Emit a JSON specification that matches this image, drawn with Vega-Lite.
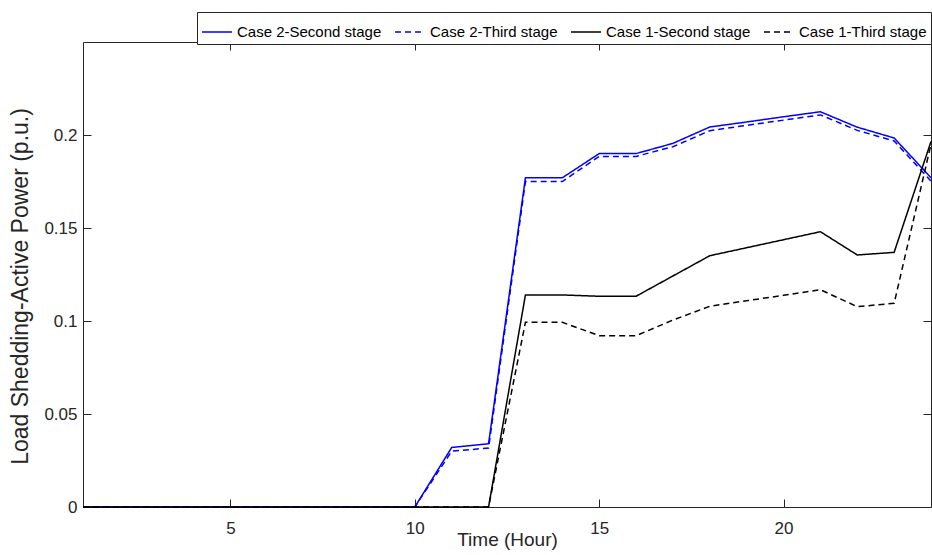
{
  "$schema": "https://vega.github.io/schema/vega-lite/v6.json",
  "width": 848,
  "height": 465,
  "autosize": {"type": "none"},
  "padding": {"left": 83, "top": 42, "right": 1, "bottom": 48},
  "background": "white",
  "config": {
    "font": "Liberation Sans",
    "view": {"stroke": "#262626", "strokeWidth": 1},
    "axis": {
      "labelColor": "#262626",
      "titleColor": "#262626",
      "tickColor": "#262626",
      "domainColor": "#262626",
      "grid": false,
      "labelFontSize": 17,
      "titleFontWeight": "normal",
      "tickSize": -8,
      "domain": false
    },
    "legend": {
      "orient": "none",
      "legendX": 114,
      "legendY": -30,
      "direction": "horizontal",
      "symbolType": "stroke",
      "symbolSize": 900,
      "symbolStrokeWidth": 1.5,
      "labelFontSize": 15,
      "labelColor": "#000000",
      "labelOffset": 4,
      "columnPadding": 10,
      "padding": 4,
      "strokeColor": "#262626",
      "fillColor": "white",
      "title": null,
      "labelLimit": 300
    }
  },
  "data": {
    "values": [
      {"series": "Case 2-Second stage", "hour": 1, "value": 0},
      {"series": "Case 2-Second stage", "hour": 2, "value": 0},
      {"series": "Case 2-Second stage", "hour": 3, "value": 0},
      {"series": "Case 2-Second stage", "hour": 4, "value": 0},
      {"series": "Case 2-Second stage", "hour": 5, "value": 0},
      {"series": "Case 2-Second stage", "hour": 6, "value": 0},
      {"series": "Case 2-Second stage", "hour": 7, "value": 0},
      {"series": "Case 2-Second stage", "hour": 8, "value": 0},
      {"series": "Case 2-Second stage", "hour": 9, "value": 0},
      {"series": "Case 2-Second stage", "hour": 10, "value": 0},
      {"series": "Case 2-Second stage", "hour": 11, "value": 0.032},
      {"series": "Case 2-Second stage", "hour": 12, "value": 0.034},
      {"series": "Case 2-Second stage", "hour": 13, "value": 0.177},
      {"series": "Case 2-Second stage", "hour": 14, "value": 0.177},
      {"series": "Case 2-Second stage", "hour": 15, "value": 0.190},
      {"series": "Case 2-Second stage", "hour": 16, "value": 0.190},
      {"series": "Case 2-Second stage", "hour": 17, "value": 0.1955},
      {"series": "Case 2-Second stage", "hour": 18, "value": 0.2043},
      {"series": "Case 2-Second stage", "hour": 19, "value": 0.207},
      {"series": "Case 2-Second stage", "hour": 20, "value": 0.2098},
      {"series": "Case 2-Second stage", "hour": 21, "value": 0.2125},
      {"series": "Case 2-Second stage", "hour": 22, "value": 0.2042},
      {"series": "Case 2-Second stage", "hour": 23, "value": 0.1984},
      {"series": "Case 2-Second stage", "hour": 24, "value": 0.177},
      {"series": "Case 2-Third stage", "hour": 1, "value": 0},
      {"series": "Case 2-Third stage", "hour": 2, "value": 0},
      {"series": "Case 2-Third stage", "hour": 3, "value": 0},
      {"series": "Case 2-Third stage", "hour": 4, "value": 0},
      {"series": "Case 2-Third stage", "hour": 5, "value": 0},
      {"series": "Case 2-Third stage", "hour": 6, "value": 0},
      {"series": "Case 2-Third stage", "hour": 7, "value": 0},
      {"series": "Case 2-Third stage", "hour": 8, "value": 0},
      {"series": "Case 2-Third stage", "hour": 9, "value": 0},
      {"series": "Case 2-Third stage", "hour": 10, "value": 0},
      {"series": "Case 2-Third stage", "hour": 11, "value": 0.030},
      {"series": "Case 2-Third stage", "hour": 12, "value": 0.0317},
      {"series": "Case 2-Third stage", "hour": 13, "value": 0.175},
      {"series": "Case 2-Third stage", "hour": 14, "value": 0.175},
      {"series": "Case 2-Third stage", "hour": 15, "value": 0.1885},
      {"series": "Case 2-Third stage", "hour": 16, "value": 0.1885},
      {"series": "Case 2-Third stage", "hour": 17, "value": 0.1937},
      {"series": "Case 2-Third stage", "hour": 18, "value": 0.2023},
      {"series": "Case 2-Third stage", "hour": 19, "value": 0.2052},
      {"series": "Case 2-Third stage", "hour": 20, "value": 0.208},
      {"series": "Case 2-Third stage", "hour": 21, "value": 0.2108},
      {"series": "Case 2-Third stage", "hour": 22, "value": 0.2025},
      {"series": "Case 2-Third stage", "hour": 23, "value": 0.1968},
      {"series": "Case 2-Third stage", "hour": 24, "value": 0.1752},
      {"series": "Case 1-Second stage", "hour": 1, "value": 0},
      {"series": "Case 1-Second stage", "hour": 2, "value": 0},
      {"series": "Case 1-Second stage", "hour": 3, "value": 0},
      {"series": "Case 1-Second stage", "hour": 4, "value": 0},
      {"series": "Case 1-Second stage", "hour": 5, "value": 0},
      {"series": "Case 1-Second stage", "hour": 6, "value": 0},
      {"series": "Case 1-Second stage", "hour": 7, "value": 0},
      {"series": "Case 1-Second stage", "hour": 8, "value": 0},
      {"series": "Case 1-Second stage", "hour": 9, "value": 0},
      {"series": "Case 1-Second stage", "hour": 10, "value": 0},
      {"series": "Case 1-Second stage", "hour": 11, "value": 0},
      {"series": "Case 1-Second stage", "hour": 12, "value": 0},
      {"series": "Case 1-Second stage", "hour": 13, "value": 0.114},
      {"series": "Case 1-Second stage", "hour": 14, "value": 0.114},
      {"series": "Case 1-Second stage", "hour": 15, "value": 0.1133},
      {"series": "Case 1-Second stage", "hour": 16, "value": 0.1133},
      {"series": "Case 1-Second stage", "hour": 17, "value": 0.1242},
      {"series": "Case 1-Second stage", "hour": 18, "value": 0.1351},
      {"series": "Case 1-Second stage", "hour": 19, "value": 0.1394},
      {"series": "Case 1-Second stage", "hour": 20, "value": 0.1437},
      {"series": "Case 1-Second stage", "hour": 21, "value": 0.148},
      {"series": "Case 1-Second stage", "hour": 22, "value": 0.1355},
      {"series": "Case 1-Second stage", "hour": 23, "value": 0.1369},
      {"series": "Case 1-Second stage", "hour": 24, "value": 0.1965},
      {"series": "Case 1-Third stage", "hour": 1, "value": 0},
      {"series": "Case 1-Third stage", "hour": 2, "value": 0},
      {"series": "Case 1-Third stage", "hour": 3, "value": 0},
      {"series": "Case 1-Third stage", "hour": 4, "value": 0},
      {"series": "Case 1-Third stage", "hour": 5, "value": 0},
      {"series": "Case 1-Third stage", "hour": 6, "value": 0},
      {"series": "Case 1-Third stage", "hour": 7, "value": 0},
      {"series": "Case 1-Third stage", "hour": 8, "value": 0},
      {"series": "Case 1-Third stage", "hour": 9, "value": 0},
      {"series": "Case 1-Third stage", "hour": 10, "value": 0},
      {"series": "Case 1-Third stage", "hour": 11, "value": 0},
      {"series": "Case 1-Third stage", "hour": 12, "value": 0},
      {"series": "Case 1-Third stage", "hour": 13, "value": 0.0993},
      {"series": "Case 1-Third stage", "hour": 14, "value": 0.0993},
      {"series": "Case 1-Third stage", "hour": 15, "value": 0.0921},
      {"series": "Case 1-Third stage", "hour": 16, "value": 0.0921},
      {"series": "Case 1-Third stage", "hour": 17, "value": 0.1005},
      {"series": "Case 1-Third stage", "hour": 18, "value": 0.1079},
      {"series": "Case 1-Third stage", "hour": 19, "value": 0.1109},
      {"series": "Case 1-Third stage", "hour": 20, "value": 0.1138},
      {"series": "Case 1-Third stage", "hour": 21, "value": 0.1168},
      {"series": "Case 1-Third stage", "hour": 22, "value": 0.1077},
      {"series": "Case 1-Third stage", "hour": 23, "value": 0.1095},
      {"series": "Case 1-Third stage", "hour": 24, "value": 0.195}
    ]
  },
  "layer": [
    {
      "transform": [{"filter": {"field": "series", "oneOf": ["Case 2-Second stage", "Case 2-Third stage"]}}],
      "mark": {"type": "line", "strokeWidth": 1.5},
      "encoding": {
        "x": {
          "field": "hour", "type": "quantitative",
          "scale": {"domain": [1, 24], "nice": false, "zero": false},
          "axis": {"orient": "bottom", "values": [5, 10, 15, 20], "title": "Time (Hour)", "titleFontSize": 19, "labelPadding": 21, "titleBaseline": "alphabetic", "titleY": 38}
        },
        "y": {
          "field": "value", "type": "quantitative",
          "scale": {"domain": [0, 0.25], "nice": false},
          "axis": {"orient": "left", "values": [0, 0.05, 0.1, 0.15, 0.2], "format": ".2~f", "title": "Load Shedding-Active Power (p.u.)", "titleFontSize": 23, "labelPadding": 14, "titleBaseline": "alphabetic", "titleAlign": "center", "titleAngle": -90, "titleX": -56, "titleY": 244}
        },
        "color": {
          "field": "series", "type": "nominal",
          "scale": {"domain": ["Case 2-Second stage", "Case 2-Third stage", "Case 1-Second stage", "Case 1-Third stage"], "range": ["#0000ff", "#0000ff", "#000000", "#000000"]}
        },
        "strokeDash": {
          "field": "series", "type": "nominal",
          "scale": {"domain": ["Case 2-Second stage", "Case 2-Third stage", "Case 1-Second stage", "Case 1-Third stage"], "range": [[1, 0], [6, 4], [1, 0], [6, 4]]}
        }
      }
    },
    {
      "transform": [{"filter": {"field": "series", "oneOf": ["Case 1-Second stage", "Case 1-Third stage"]}}],
      "mark": {"type": "line", "strokeWidth": 1.5},
      "encoding": {
        "x": {
          "field": "hour", "type": "quantitative",
          "axis": {"orient": "top", "values": [5, 10, 15, 20], "labels": false, "title": null}
        },
        "y": {
          "field": "value", "type": "quantitative",
          "axis": {"orient": "right", "values": [0, 0.05, 0.1, 0.15, 0.2], "labels": false, "title": null}
        },
        "color": {"field": "series", "type": "nominal"},
        "strokeDash": {"field": "series", "type": "nominal"}
      }
    }
  ],
  "resolve": {"axis": {"x": "independent", "y": "independent"}}
}
